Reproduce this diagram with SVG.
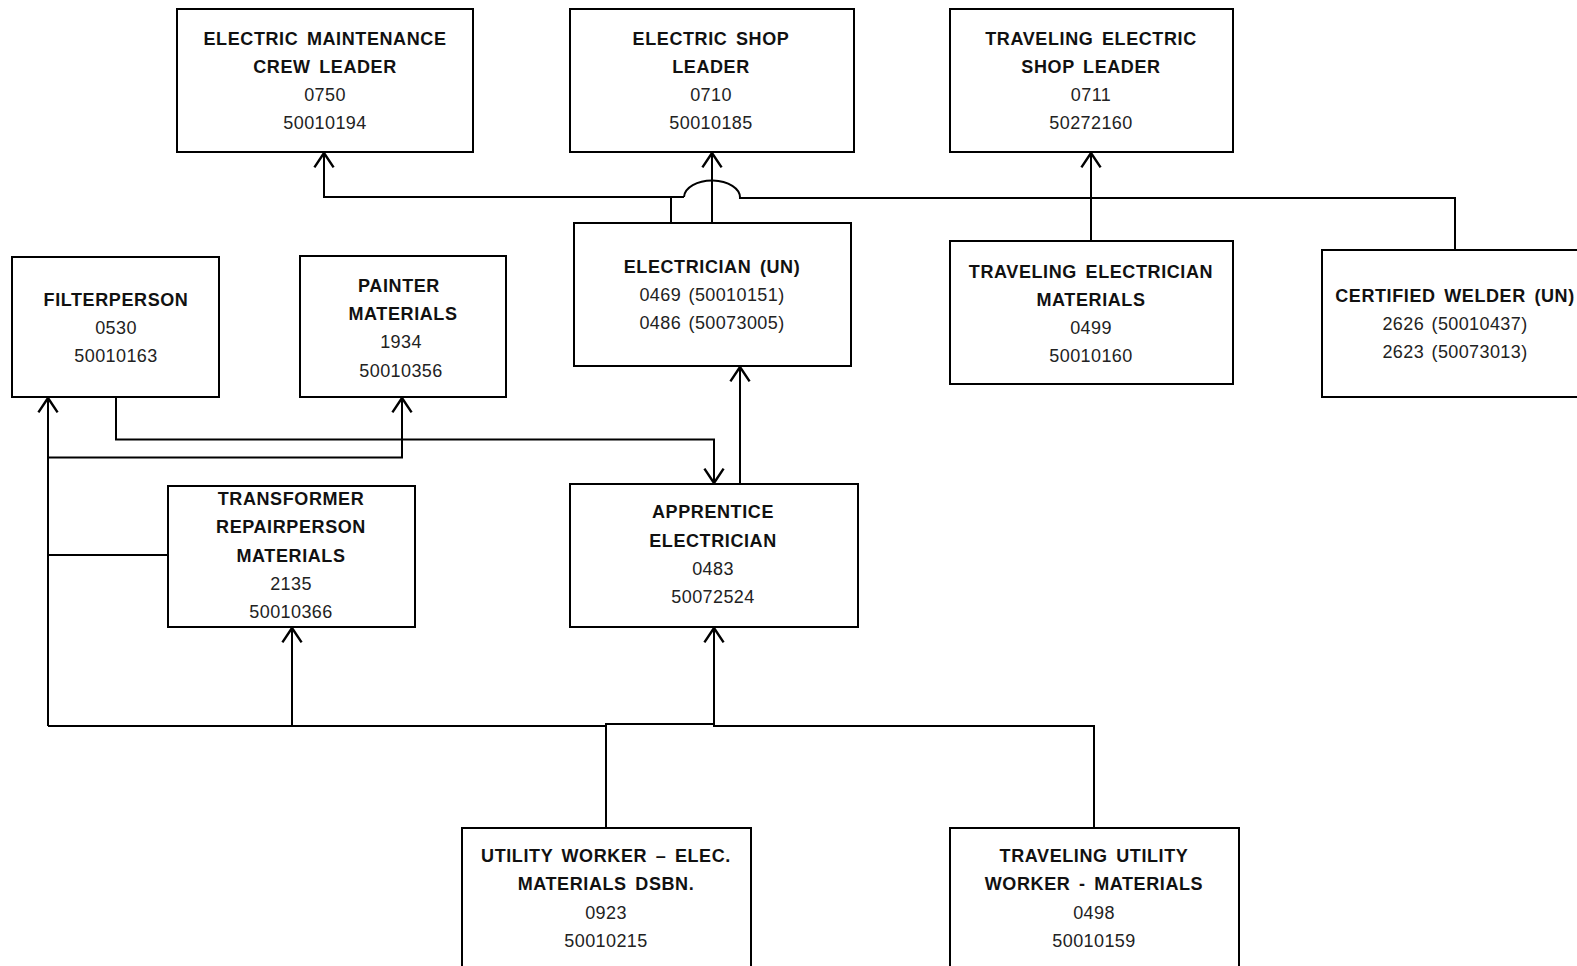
<svg xmlns="http://www.w3.org/2000/svg" width="1577" height="966" viewBox="0 0 1577 966">
<defs>
<style>
.box{fill:#fff;stroke:#000;stroke-width:2}
.t{font-family:"Liberation Sans",Arial,sans-serif;font-size:18px;fill:#222;text-anchor:middle;letter-spacing:0.4px;word-spacing:2px}
.b{font-weight:bold;fill:#111;letter-spacing:0.6px;word-spacing:3px}
.c{fill:none;stroke:#000;stroke-width:2}
</style>
<marker id="ah" markerUnits="userSpaceOnUse" markerWidth="24" markerHeight="24" refX="0" refY="0" viewBox="-13 -10 15 20" orient="auto">
<path d="M-12,-8 L0,0 L-12,8" fill="none" stroke="#000" stroke-width="2"/>
</marker>
</defs>
<rect width="1577" height="966" fill="#fff"/>
<g id="connectors">
<path class="c" d="M684,197 L324,197 L324,153" marker-end="url(#ah)"/>
<path class="c" d="M671,223 L671,197"/>
<path class="c" d="M684,197 A28,17 0 0 1 740,198 L1455,198 L1455,250"/>
<path class="c" d="M712,223 L712,153" marker-end="url(#ah)"/>
<path class="c" d="M1091,241 L1091,153" marker-end="url(#ah)"/>
<path class="c" d="M740,484 L740,367" marker-end="url(#ah)"/>
<path class="c" d="M116,397 L116,439.5 L714,439.5 L714,483" marker-end="url(#ah)"/>
<path class="c" d="M48,457.5 L402,457.5 L402,398" marker-end="url(#ah)"/>
<path class="c" d="M48,726 L48,398" marker-end="url(#ah)"/>
<path class="c" d="M48,555 L168,555"/>
<path class="c" d="M48,726 L606,726 L606,724 L714,724 L714,726 L1094,726 L1094,828"/>
<path class="c" d="M606,724 L606,828"/>
<path class="c" d="M714,724 L714,628" marker-end="url(#ah)"/>
<path class="c" d="M292,726 L292,628" marker-end="url(#ah)"/>
</g>
<g id="n-crew-leader">
<rect class="box" x="177" y="9" width="296" height="143"/>
<text class="t b" x="325" y="44.5">ELECTRIC MAINTENANCE</text>
<text class="t b" x="325" y="72.8">CREW LEADER</text>
<text class="t" x="325" y="101">0750</text>
<text class="t" x="325" y="129">50010194</text>
</g>
<g id="n-shop-leader">
<rect class="box" x="570" y="9" width="284" height="143"/>
<text class="t b" x="711" y="44.5">ELECTRIC SHOP</text>
<text class="t b" x="711" y="72.8">LEADER</text>
<text class="t" x="711" y="101">0710</text>
<text class="t" x="711" y="129">50010185</text>
</g>
<g id="n-traveling-shop-leader">
<rect class="box" x="950" y="9" width="283" height="143"/>
<text class="t b" x="1091" y="44.5">TRAVELING ELECTRIC</text>
<text class="t b" x="1091" y="72.8">SHOP LEADER</text>
<text class="t" x="1091" y="101">0711</text>
<text class="t" x="1091" y="129">50272160</text>
</g>
<g id="n-filterperson">
<rect class="box" x="12" y="257" width="207" height="140"/>
<text class="t b" x="116" y="306">FILTERPERSON</text>
<text class="t" x="116" y="334.3">0530</text>
<text class="t" x="116" y="362.4">50010163</text>
</g>
<g id="n-painter">
<rect class="box" x="300" y="256" width="206" height="141"/>
<text class="t b" x="399" y="292">PAINTER</text>
<text class="t b" x="403" y="320.2">MATERIALS</text>
<text class="t" x="401" y="348.4">1934</text>
<text class="t" x="401" y="376.5">50010356</text>
</g>
<g id="n-electrician">
<rect class="box" x="574" y="223" width="277" height="143"/>
<text class="t b" x="712" y="273">ELECTRICIAN (UN)</text>
<text class="t" x="712" y="301.1">0469 (50010151)</text>
<text class="t" x="712" y="329.2">0486 (50073005)</text>
</g>
<g id="n-traveling-electrician">
<rect class="box" x="950" y="241" width="283" height="143"/>
<text class="t b" x="1091" y="278">TRAVELING ELECTRICIAN</text>
<text class="t b" x="1091" y="306.1">MATERIALS</text>
<text class="t" x="1091" y="334.3">0499</text>
<text class="t" x="1091" y="362.4">50010160</text>
</g>
<g id="n-welder">
<rect class="box" x="1322" y="250" width="268" height="147"/>
<text class="t b" x="1455" y="302">CERTIFIED WELDER (UN)</text>
<text class="t" x="1455" y="330.2">2626 (50010437)</text>
<text class="t" x="1455" y="358.4">2623 (50073013)</text>
</g>
<g id="n-transformer">
<rect class="box" x="168" y="486" width="247" height="141"/>
<text class="t b" x="291" y="505.2">TRANSFORMER</text>
<text class="t b" x="291" y="533.4">REPAIRPERSON</text>
<text class="t b" x="291" y="561.5">MATERIALS</text>
<text class="t" x="291" y="589.7">2135</text>
<text class="t" x="291" y="617.9">50010366</text>
</g>
<g id="n-apprentice">
<rect class="box" x="570" y="484" width="288" height="143"/>
<text class="t b" x="713" y="518.4">APPRENTICE</text>
<text class="t b" x="713" y="546.5">ELECTRICIAN</text>
<text class="t" x="713" y="574.7">0483</text>
<text class="t" x="713" y="602.8">50072524</text>
</g>
<g id="n-utility-worker">
<rect class="box" x="462" y="828" width="289" height="150"/>
<text class="t b" x="606" y="862.3">UTILITY WORKER – ELEC.</text>
<text class="t b" x="606" y="890.4">MATERIALS DSBN.</text>
<text class="t" x="606" y="918.5">0923</text>
<text class="t" x="606" y="946.6">50010215</text>
</g>
<g id="n-traveling-utility-worker">
<rect class="box" x="950" y="828" width="289" height="150"/>
<text class="t b" x="1094" y="862.3">TRAVELING UTILITY</text>
<text class="t b" x="1094" y="890.4">WORKER - MATERIALS</text>
<text class="t" x="1094" y="918.5">0498</text>
<text class="t" x="1094" y="946.6">50010159</text>
</g>
</svg>
